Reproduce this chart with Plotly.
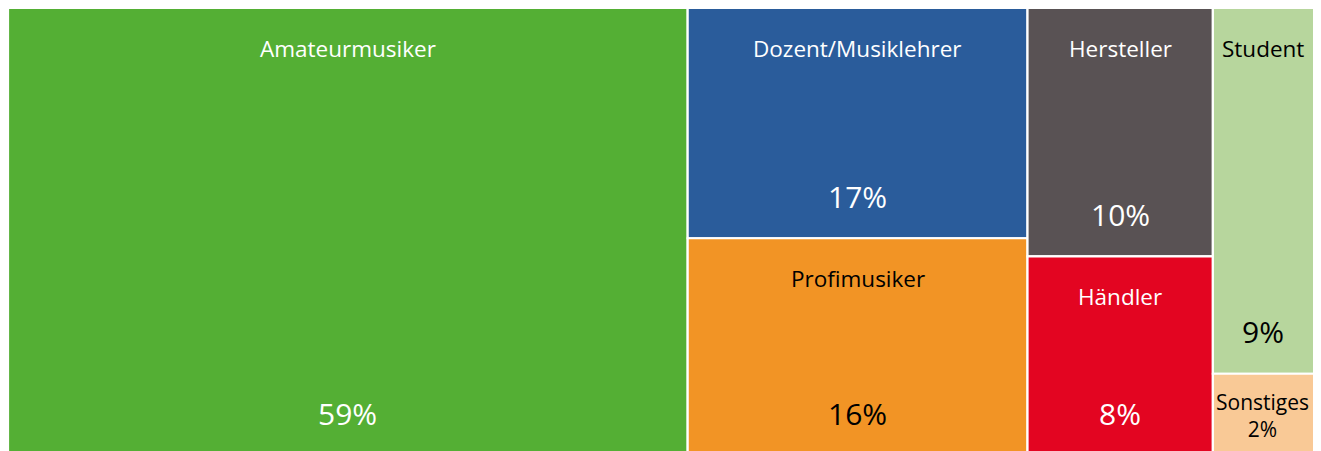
import plotly.graph_objects as go

# ---- data ----
categories = ["Amateurmusiker", "Dozent/Musiklehrer", "Profimusiker",
              "Hersteller", "Händler", "Student", "Sonstiges"]
share_labels = [59, 17, 16, 10, 8, 9, 2]          # printed percentages
tile_sizes = [66, 17, 16, 10, 8, 9, 2]            # tile areas as drawn
column_of = [0, 1, 1, 2, 2, 3, 3]                 # which column each tile sits in
tile_colors = ["#54AF34", "#2A5C9B", "#F29425", "#595254",
               "#E30521", "#B7D69D", "#F9C996"]
text_colors = ["white", "white", "black", "white", "white", "black", "black"]

# ---- layout of tiles (columns left to right, tiles stacked top to bottom) ----
n_cols = max(column_of) + 1
col_totals = [sum(s for s, c in zip(tile_sizes, column_of) if c == k) for k in range(n_cols)]
col_left = [sum(col_totals[:k]) for k in range(n_cols)]

FIG_W, FIG_H = 1313, 443
FULL_H = 447                      # pixel height of the whole treemap (bottom edge cropped)
Y_LO = 1 - FIG_H / FULL_H         # visible part of the y axis
X_HI = 127.5                      # visible part of the x axis (right edge cropped)
X_SEEN = X_HI * (FIG_W - 8) / FIG_W   # part of the x axis actually visible in the window

xs, ws, bases, hs, text_x = [], [], [], [], []
filled = [0.0] * n_cols
for size, col in zip(tile_sizes, column_of):
    h = size / col_totals[col]
    top = 1.0 - filled[col]
    filled[col] += h
    left, right = col_left[col], col_left[col] + col_totals[col]
    xs.append((left + right) / 2)
    ws.append(col_totals[col])
    bases.append(top - h)
    hs.append(h)
    text_x.append((left + min(right, X_SEEN)) / 2)

fig = go.Figure(go.Bar(
    x=xs, y=hs, base=bases, width=ws,
    marker=dict(color=tile_colors, line=dict(color="white", width=2.2)),
    hoverinfo="skip",
))


def to_paper(y):
    return (y - Y_LO) / (1 - Y_LO)


FONT = "Open Sans"
annotations = []
for name, pct, x, b, h, tc in zip(categories, share_labels, text_x, bases, hs, text_colors):
    if h * FULL_H > 120:
        annotations.append(dict(x=x, y=to_paper(b + h), xref="x", yref="paper", text=name,
                                showarrow=False, yshift=-40, yanchor="middle",
                                font=dict(family=FONT, size=22.5, color=tc)))
        annotations.append(dict(x=x, y=to_paper(b), xref="x", yref="paper", text=f"{pct}%",
                                showarrow=False, yshift=42, yanchor="middle",
                                font=dict(family=FONT, size=30, color=tc)))
    else:
        annotations.append(dict(x=x, y=to_paper(b + h / 2), xref="x", yref="paper",
                                text=f"{name}<br>{pct}%", showarrow=False,
                                yshift=-1, yanchor="middle",
                                font=dict(family=FONT, size=21, color=tc)))

fig.update_layout(
    width=FIG_W, height=FIG_H,
    margin=dict(l=0, r=0, t=0, b=0),
    paper_bgcolor="white", plot_bgcolor="white",
    showlegend=False, barmode="overlay",
    xaxis=dict(range=[0, X_HI], visible=False, fixedrange=True),
    yaxis=dict(range=[Y_LO, 1], visible=False, fixedrange=True),
    annotations=annotations,
)

fig.write_html("out.html", config={"displayModeBar": False})
